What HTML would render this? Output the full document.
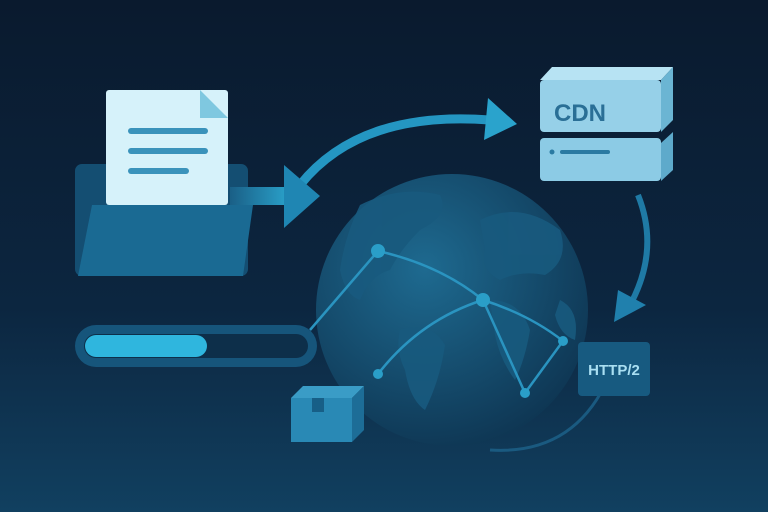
<!DOCTYPE html>
<html><head><style>
html,body{margin:0;padding:0;width:768px;height:512px;overflow:hidden;background:#0a1c31}
</style></head><body>
<svg width="768" height="512" viewBox="0 0 768 512" xmlns="http://www.w3.org/2000/svg">
<defs>
<linearGradient id="bg" x1="0" y1="0" x2="0" y2="1">
<stop offset="0" stop-color="#0a1a2e"/><stop offset="0.6" stop-color="#0c2640"/><stop offset="1" stop-color="#114060"/>
</linearGradient>
<radialGradient id="globe" cx="0.4" cy="0.35" r="0.7">
<stop offset="0" stop-color="#1e6a90"/><stop offset="1" stop-color="#0e3552"/>
</radialGradient>
<linearGradient id="arr" x1="0" y1="0" x2="1" y2="0">
<stop offset="0" stop-color="#1a5f86"/><stop offset="1" stop-color="#2aa3cc"/>
</linearGradient>
</defs>
<rect width="768" height="512" fill="url(#bg)"/>
<!-- bottom arc under globe -->
<path d="M490 450 Q570 455 605 385" fill="none" stroke="#1a5a80" stroke-width="3"/>
<!-- globe -->
<circle cx="452" cy="310" r="136" fill="url(#globe)"/>
<g fill="#185a7e" opacity="0.9">
<path d="M360 205 Q400 185 440 195 Q450 215 420 230 Q400 250 390 270 Q370 275 360 300 Q345 295 340 270 Q345 235 360 205Z"/>
<path d="M400 330 Q430 320 445 345 Q440 380 425 410 Q410 400 405 370 Q395 350 400 330Z"/>
<path d="M480 220 Q520 200 560 230 Q570 260 545 275 Q520 270 500 280 Q480 270 485 250Z"/>
<path d="M490 300 Q520 300 530 330 Q525 360 515 380 Q500 360 495 335Z"/>
<path d="M560 300 Q580 310 575 340 Q560 335 555 315Z"/>
</g>
<!-- network lines -->
<g stroke="#2a94c0" stroke-width="2.5" fill="none">
<path d="M310 330 L378 251"/>
<path d="M378 251 Q440 265 483 300"/>
<path d="M378 374 Q420 320 483 300"/>
<path d="M483 300 L525 393 L563 341 Q530 315 483 300"/>
</g>
<g fill="#2a9ec8">
<circle cx="378" cy="251" r="7"/><circle cx="483" cy="300" r="7"/>
<circle cx="378" cy="374" r="5"/><circle cx="525" cy="393" r="5"/><circle cx="563" cy="341" r="5"/>
</g>
<!-- top arc arrow -->
<path d="M300 185 Q360 110 490 120" fill="none" stroke="#2496c2" stroke-width="9"/>
<polygon points="488,98 517,124 484,140" fill="#2aa3cc"/>
<!-- right arc arrow -->
<path d="M638 195 Q660 250 630 305" fill="none" stroke="#1f7aa5" stroke-width="6"/>
<polygon points="614,322 618,290 646,305" fill="#2080ad"/>
<!-- folder -->
<rect x="75" y="164" width="173" height="112" rx="7" fill="#144e72"/>
<rect x="106" y="90" width="122" height="115" rx="3" fill="#d6f2fa"/>
<polygon points="200,90 228,118 200,118" fill="#7fc8e0"/>
<g fill="#3a93bb"><rect x="128" y="128" width="80" height="6" rx="3"/><rect x="128" y="148" width="80" height="6" rx="3"/><rect x="128" y="168" width="61" height="6" rx="3"/></g>
<polygon points="92,205 253,205 243,276 78,276" fill="#1a6a93"/>
<!-- folder arrow -->
<rect x="230" y="187" width="60" height="18" fill="url(#arr)"/>
<polygon points="284,165 320,196 284,228" fill="#1f86b3"/>
<!-- progress bar -->
<rect x="75" y="325" width="242" height="42" rx="21" fill="#16557b"/>
<rect x="84" y="334" width="224" height="24" rx="12" fill="#0d2f4a"/>
<rect x="85" y="335" width="122" height="22" rx="11" fill="#2fb6de"/>
<!-- small box -->
<polygon points="291,398 303,386 364,386 352,398" fill="#3a9cc6"/>
<polygon points="352,398 364,386 364,430 352,442" fill="#1d6d97"/>
<rect x="291" y="398" width="61" height="44" fill="#2989b5"/>
<rect x="312" y="398" width="12" height="14" fill="#175f87"/>
<!-- CDN server -->
<polygon points="540,80 552,67 673,67 661,80" fill="#b7e3f3"/>
<polygon points="661,80 673,67 673,120 661,132" fill="#6bb5d3"/>
<rect x="540" y="80" width="121" height="52" rx="4" fill="#96d0e8"/>
<text x="580" y="121" text-anchor="middle" font-family="Liberation Sans, sans-serif" font-size="24" font-weight="bold" fill="#2a6f96">CDN</text>
<polygon points="661,143 673,132 673,170 661,181" fill="#5eaacb"/>
<rect x="540" y="138" width="121" height="43" rx="4" fill="#8ccbe5"/>
<circle cx="552" cy="152" r="2.5" fill="#2b7aa2"/>
<rect x="560" y="150" width="50" height="4" rx="2" fill="#2b7aa2"/>
<!-- HTTP/2 -->
<rect x="578" y="342" width="72" height="54" rx="4" fill="#175a80"/>
<text x="614" y="375" text-anchor="middle" font-family="Liberation Sans, sans-serif" font-size="15" font-weight="bold" fill="#a9dff2">HTTP/2</text>
</svg>
</body></html>
